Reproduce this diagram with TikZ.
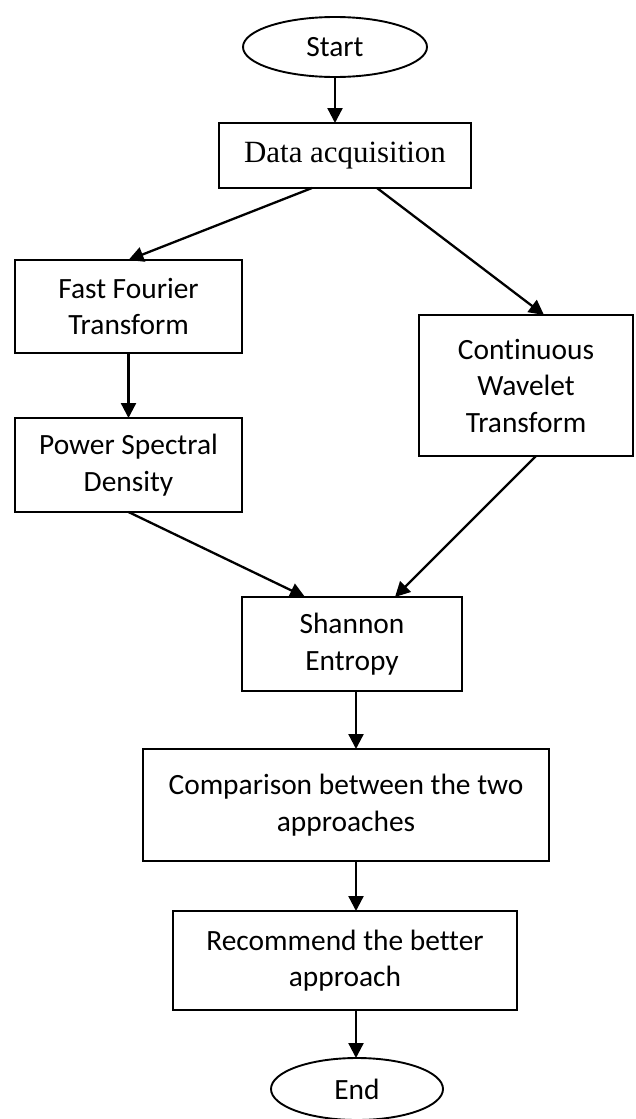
\documentclass[tikz,border=0pt]{standalone}
\usepackage{fontspec}
\setmainfont{Carlito}[Ligatures=NoCommon]
\newfontfamily\serifface{Liberation Serif}
\usetikzlibrary{shapes.geometric,arrows.meta}
\begin{document}
\begin{tikzpicture}[x=1pt,y=-1pt,
  every node/.style={inner sep=0pt,outer sep=0pt},
  box/.style={draw,line width=1.9pt,rectangle,align=center,
    font=\fontsize{29.4}{36.5}\selectfont},
  oval/.style={draw,line width=1.9pt,ellipse,
    font=\fontsize{29.4}{36.5}\selectfont},
  arr/.style={line width=2.3pt,-{Triangle[width=15pt,length=15pt]}}]
\useasboundingbox (0,0) rectangle (635,1119);
\node[oval,minimum width=184pt,minimum height=60pt] (start) at (335,47) {Start};
\node[box,minimum width=252pt,minimum height=65pt,font=\serifface\fontsize{30.9}{36}\selectfont] (data) at (345,155.5) {Data acquisition};
\node[box,minimum width=227pt,minimum height=93pt] (fft) at (128.5,306.5) {Fast Fourier\\Transform};
\node[box,minimum width=214pt,minimum height=141pt] (cwt) at (526,385.5) {Continuous\\Wavelet\\Transform};
\node[box,minimum width=227pt,minimum height=94pt] (psd) at (128.5,465) {Power Spectral\\Density};
\node[box,minimum width=220pt,minimum height=94pt] (shannon) at (352,644) {Shannon\\Entropy};
\node[box,minimum width=406pt,minimum height=112pt] (comp) at (346,805) {Comparison between the two\\approaches};
\node[box,minimum width=344pt,minimum height=99pt] (rec) at (345,960.5) {Recommend the better\\approach};
\node[oval,minimum width=172pt,minimum height=62pt] (end) at (357,1089) {End};

\draw[arr] (start.south) -- (start.south |- data.north);
\draw[arr] ([xshift=-33pt]data.south) -- (fft.north);
\draw[arr] ([xshift=32pt]data.south) -- ([xshift=18pt]cwt.north);
\draw[arr] (fft.south) -- (psd.north);
\draw[arr] (psd.south) -- ([xshift=-47pt]shannon.north);
\draw[arr] ([xshift=10pt]cwt.south) -- ([xshift=43pt]shannon.north);
\draw[arr] ([xshift=4pt]shannon.south) -- ([xshift=4pt]shannon.south |- comp.north);
\draw[arr] ([xshift=10pt]comp.south) -- ([xshift=10pt]comp.south |- rec.north);
\draw[arr] ([xshift=11pt]rec.south) -- ([xshift=11pt]rec.south |- end.north);
\end{tikzpicture}
\end{document}
